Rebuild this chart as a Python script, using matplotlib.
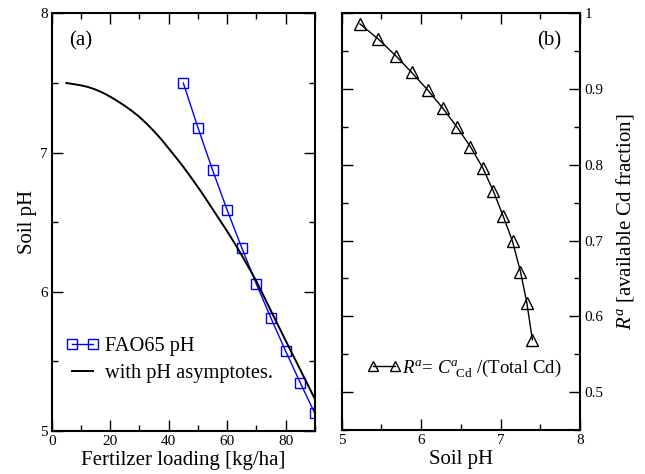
import matplotlib
matplotlib.use("Agg")
from matplotlib import pyplot as plt
from matplotlib.legend_handler import HandlerLine2D
from matplotlib.lines import Line2D
from matplotlib.ticker import MultipleLocator

# panel (a): FAO65 pH vs fertilizer loading
fao_load = [45, 50, 55, 60, 65, 70, 75, 80, 85, 90]
fao_ph = [7.50, 7.18, 6.875, 6.587, 6.316, 6.055, 5.81, 5.574, 5.346, 5.126]

asym_load = [5, 7.5, 10, 12.5, 15, 17.5, 20, 22.5, 25, 27.5, 30, 32.5, 35,
             37.5, 40, 42.5, 45, 47.5, 50, 52.5, 55, 57.5, 60, 62.5, 65,
             67.5, 70, 72.5, 75, 77.5, 80, 82.5, 85, 87.5, 90]
asym_ph = [7.500, 7.492, 7.483, 7.471, 7.453, 7.430, 7.402, 7.370, 7.336,
           7.298, 7.256, 7.207, 7.153, 7.095, 7.030, 6.965, 6.898, 6.826,
           6.752, 6.675, 6.595, 6.515, 6.435, 6.350, 6.262, 6.170, 6.075,
           5.970, 5.862, 5.756, 5.650, 5.545, 5.440, 5.335, 5.230]

# panel (b): available Cd fraction vs soil pH
soil_ph = [5.23, 5.46, 5.68, 5.88, 6.08, 6.27, 6.45, 6.62, 6.775, 6.91, 7.03,
           7.15, 7.25, 7.33, 7.40]
ra_frac = [0.986, 0.966, 0.944, 0.922, 0.899, 0.875, 0.850, 0.824, 0.796,
           0.765, 0.733, 0.699, 0.659, 0.618, 0.569]

plt.rcParams["font.family"] = ["Liberation Serif", "DejaVu Serif"]
plt.rcParams["mathtext.fontset"] = "custom"
plt.rcParams["mathtext.rm"] = "Liberation Serif"
plt.rcParams["mathtext.it"] = "Liberation Serif:italic"

fig = plt.figure(figsize=(6.45, 4.74), dpi=100)
ax1 = fig.add_axes([0.0802, 0.0907, 0.408, 0.881])
ax2 = fig.add_axes([0.5298, 0.0929, 0.3695, 0.8790])

# markers sit at the very ends of the legend handle
no_pad = {Line2D: HandlerLine2D(marker_pad=0)}


def style(ax):
    for s in ax.spines.values():
        s.set_linewidth(1.5)
    ax.tick_params(which="both", direction="in", top=True, right=True,
                   labelsize=11, width=1.0, pad=3)
    ax.tick_params(which="major", length=8)
    ax.tick_params(which="minor", length=4.5)


ax1.plot(fao_load, fao_ph, color="blue", lw=1.0, marker="s", ms=7.5,
         mfc="none", mec="blue", mew=1.0, label="FAO65 pH")
ax1.plot(asym_load, asym_ph, color="black", lw=1.4,
         label="with pH asymptotes.")
ax1.set_xlim(0, 90)
ax1.set_ylim(5, 8)
ax1.xaxis.set_major_locator(MultipleLocator(20))
ax1.xaxis.set_minor_locator(MultipleLocator(10))
ax1.yaxis.set_major_locator(MultipleLocator(1))
ax1.yaxis.set_minor_locator(MultipleLocator(0.5))
style(ax1)
ax1.set_xlabel("Fertilzer loading [kg/ha]", fontsize=15, labelpad=2)
ax1.set_ylabel("Soil pH", fontsize=15, labelpad=2)
ax1.text(0.065, 0.935, "(a)", transform=ax1.transAxes, fontsize=15,
         va="center", ha="left")
ax1.legend(loc="lower left", bbox_to_anchor=(0.021, 0.08), frameon=False,
           fontsize=14.7, numpoints=2, handlelength=1.05, handletextpad=0.6,
           borderaxespad=0.3, labelspacing=0.4, handler_map=no_pad)

ax2.plot(soil_ph, ra_frac, color="black", lw=1.0, marker="^", ms=8,
         mfc="none", mec="black", mew=1.0,
         label=r"$R^a$= $C^a_{\ \ \rm Cd}$ /(Total Cd)")
ax2.set_xlim(5, 8)
ax2.set_ylim(0.45, 1.0)
ax2.xaxis.set_major_locator(MultipleLocator(1))
ax2.xaxis.set_minor_locator(MultipleLocator(0.5))
ax2.yaxis.set_major_locator(MultipleLocator(0.1))
ax2.yaxis.set_minor_locator(MultipleLocator(0.05))
style(ax2)
ax2.tick_params(which="both", labelleft=False, labelright=True)
ax2.yaxis.set_label_position("right")
ax2.set_xlabel("Soil pH", fontsize=15, labelpad=2)
ax2.set_ylabel(r"$R^a$ [available Cd fraction]", fontsize=15, labelpad=8)
ax2.set_yticks([0.5, 0.6, 0.7, 0.8, 0.9, 1.0])
ax2.set_yticklabels(["0.5", "0.6", "0.7", "0.8", "0.9", "1"])
ax2.text(0.82, 0.935, "(b)", transform=ax2.transAxes, fontsize=15,
         va="center", ha="left")
ax2.legend(loc="lower left", bbox_to_anchor=(0.075, 0.09), frameon=False,
           fontsize=13.5, numpoints=2, markerscale=0.85, handlelength=1.17,
           handletextpad=0.4, borderaxespad=0.3, handler_map=no_pad)

fig.savefig("out.png", dpi=100)
